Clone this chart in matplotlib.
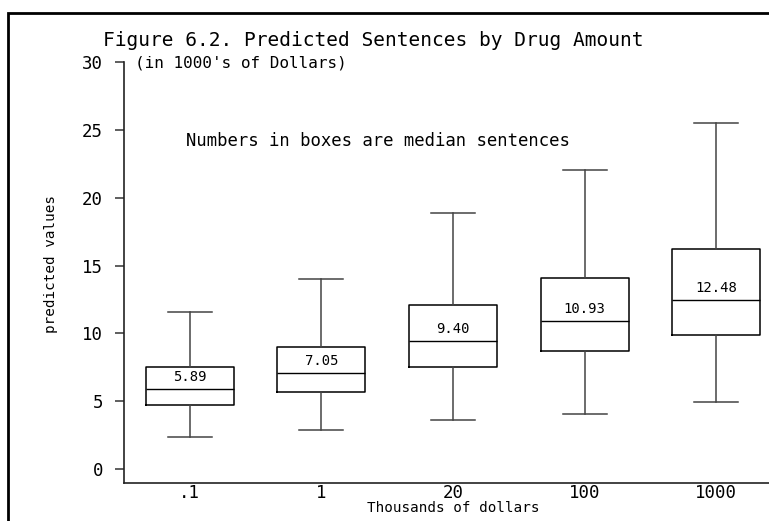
import matplotlib.pyplot as plt
from matplotlib.patches import Rectangle

# Data
categories = ['.1', '1', '20', '100', '1000']
whislo = [2.38, 2.90, 3.59, 4.08, 4.96]
q1 = [4.69, 5.67, 7.49, 8.70, 9.87]
med = [5.89, 7.05, 9.40, 10.93, 12.48]
q3 = [7.52, 8.97, 12.06, 14.05, 16.19]
whishi = [11.55, 14.02, 18.89, 22.06, 25.47]
yticks = [0, 5, 10, 15, 20, 25, 30]

plt.rcParams['font.family'] = 'DejaVu Sans Mono'

W, H = 769, 521
fig = plt.figure(figsize=(W / 100, H / 100), dpi=100)
ax = fig.add_axes([124 / W, 1 - 483 / H, (782 - 124) / W, (483 - 62) / H])

stats = []
for i, c in enumerate(categories):
    stats.append(dict(label=c, whislo=whislo[i], q1=q1[i], med=med[i],
                      q3=q3[i], whishi=whishi[i], fliers=[]))

positions = list(range(1, len(categories) + 1))
ax.bxp(stats, positions=positions, widths=0.67, capwidths=0.335,
       showfliers=False,
       boxprops=dict(color='black', lw=1.1),
       medianprops=dict(color='black', lw=1.0),
       whiskerprops=dict(color='#444444', lw=1.1),
       capprops=dict(color='#444444', lw=1.1))

# median labels inside boxes
for p, m in zip(positions, med):
    ax.annotate(f'{m:.2f}', xy=(p, m), xytext=(0, 12), textcoords='offset pixels',
                ha='center', va='center', fontsize=10)

ax.set_xlim(0.5, 5.5)
ax.set_ylim(-1.03, 30)
ax.set_yticks(yticks)
ax.set_xticks(positions)
ax.set_xticklabels(categories)

ax.spines['top'].set_visible(False)
ax.spines['right'].set_visible(False)
ax.spines['left'].set_bounds(-1.03, 30)
for s in ['left', 'bottom']:
    ax.spines[s].set_linewidth(1.2)
    ax.spines[s].set_color('#222222')

ax.tick_params(axis='y', length=6.5, width=1.1, pad=8.5, labelsize=12.5, color='#333333')
ax.tick_params(axis='x', length=0, pad=1, labelsize=12.5)

ax.set_ylabel('predicted values', fontsize=10.3)
ax.yaxis.set_label_coords(-0.100, 0.52)
ax.set_xlabel('Thousands of dollars', fontsize=10.3, labelpad=-1)

fig.text(103 / W, 1 - 40 / H, 'Figure 6.2. Predicted Sentences by Drug Amount',
         fontsize=14, va='center', ha='left')
fig.text(135 / W, 1 - 63 / H, "(in 1000's of Dollars)",
         fontsize=11.5, va='center', ha='left')
fig.text(186 / W, 1 - 141 / H, 'Numbers in boxes are median sentences',
         fontsize=12.4, va='center', ha='left')

# outer frame, cut off at right and bottom like the reference
fig.patches.append(Rectangle((8 / W, -0.1), 1.2, 1 - 13 / H + 0.1,
                             transform=fig.transFigure, fill=False,
                             lw=2, edgecolor='black'))

fig.savefig('out.png', dpi=100)
